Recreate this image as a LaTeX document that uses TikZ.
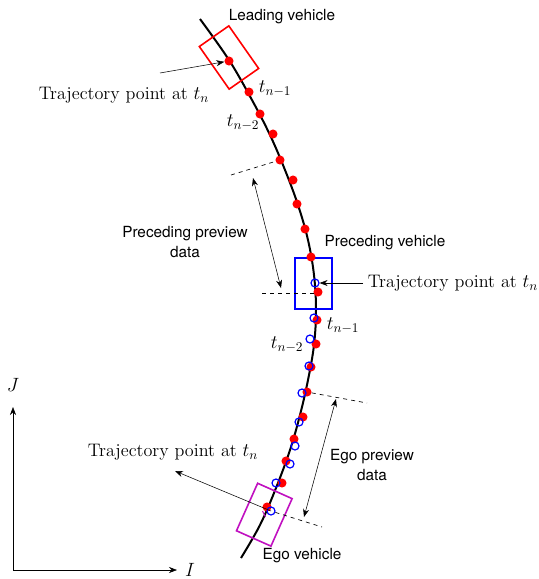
\documentclass[tikz,border=0pt]{standalone}
\usepackage{fontspec}
\newfontfamily\labelfont{TeX Gyre Heros}
\usetikzlibrary{arrows.meta, positioning}
\definecolor{egomag}{RGB}{192,16,192}

\begin{document}
\begin{tikzpicture}[x=0.75pt, y=-0.75pt, every node/.style={font=\fontsize{13.6}{16}\selectfont},
    tag/.style={font=\labelfont\fontsize{11.5}{15}\selectfont, align=center},
    pt/.style={circle, fill=red, inner sep=0pt, minimum size=6.8pt},
    ego/.style={circle, draw=blue, line width=0.9pt, inner sep=0pt, minimum size=6pt},
    car/.style={rectangle, line width=1.2pt, inner sep=0pt},
    arr/.style={-{Stealth[length=6pt, width=4.5pt]}},
    both/.style={{Stealth[length=6pt, width=4.5pt]}-{Stealth[length=6pt, width=4.5pt]}},
    guide/.style={dashed, line width=0.5pt}]
    \useasboundingbox (0,0) rectangle (539,579);

    % road / trajectory
    \draw[line width=1.5pt] plot[smooth, tension=0.6] coordinates {(200,19) (229,60) (252,100) (270,135) (285,170) (298,205) (308,240) (314,275) (316,310) (314,345) (308,380) (300,415) (290,450) (276,488) (260,525) (241,558)};

    % axes
    \coordinate (orig) at (13,570);
    \coordinate (jtop) at (13,407);
    \coordinate (iend) at (177,570);
    \draw[arr] (orig) -- (jtop);
    \draw[arr] (orig) -- (iend);
    \node (jlbl) at (13,385) {$J$};
    \node (ilbl) at (190,570) {$I$};

    % vehicles
    \node[car, draw=red, minimum width=27pt, minimum height=39pt, rotate=35] (lead-box) at (229,57.5) {};
    \node[car, draw=blue, minimum width=27.75pt, minimum height=38.25pt] (prec-box) at (313.5,283.5) {};
    \node[car, draw=egomag, minimum width=28.3pt, minimum height=39pt, rotate=-24] (ego-box) at (264.3,514.7) {};
    \draw[egomag, line width=0.8pt] (262.5,511) -- (265.5,517);

    % sampled points
    \foreach \x/\y [count=\i] in {229/61, 249/92, 260/114, 273/134, 280/160, 293/180, 297/204, 305/229, 311/257, 318/292, 317/320, 316/344, 311/367, 307/392, 303/417, 294/439, 286/461, 282/483, 267/507}
        \node[pt] (r\i) at (\x,\y) {};
    \foreach \x/\y [count=\i] in {315/283, 314/318, 310/339, 309/366, 302/393, 299/422, 295/446, 290/464, 276/483, 271/511}
        \node[ego] (b\i) at (\x,\y) {};

    % labels
    \node[tag] (lead-name) at (282,17) {Leading vehicle};
    \node[tag] (prec-name) at (385,243) {Preceding vehicle};
    \node[tag] (ego-name) at (302,556) {Ego vehicle};
    \node[tag] (prec-prev) at (185,242) {Preceding preview\\data};
    \node[tag] (ego-prev) at (372,465) {Ego preview\\data};

    \node (lead-t1) at (275,89) {$t_{n-1}$};
    \node (lead-t2) at (243,123) {$t_{n-2}$};
    \node (prec-t1) at (343,326) {$t_{n-1}$};
    \node (prec-t2) at (287,345) {$t_{n-2}$};

    \node (lead-lbl) at (124,95) {Trajectory point at $t_n$};
    \node (prec-lbl) at (453,283) {Trajectory point at $t_n$};
    \node (ego-lbl) at (173,452) {Trajectory point at $t_n$};

    % pointers
    \coordinate (lead-tail) at (160,73);
    \coordinate (ego-tip) at (175,471);
    \draw[arr] (lead-tail) -- (r1);
    \draw[arr] (prec-lbl.west) -- (b1);
    \draw[arr] (b10.center) -- (ego-tip);

    % preview windows
    \coordinate (pp-a) at (231,175);
    \coordinate (pp-b) at (262,293);
    \coordinate (ep-a) at (367,403);
    \coordinate (ep-b) at (322,527);
    \draw[guide] (pp-a) -- (r5);
    \draw[guide] (pp-b) -- (317,293);
    \draw[guide] (r14) -- (ep-a);
    \draw[guide] (b10) -- (ep-b);
    \coordinate (pp-top) at (253,178);
    \coordinate (pp-bot) at (281,288);
    \coordinate (ep-top) at (336,399);
    \coordinate (ep-bot) at (304,517);
    \draw[both] (pp-top) -- (pp-bot);
    \draw[both] (ep-top) -- (ep-bot);
\end{tikzpicture}
\end{document}
